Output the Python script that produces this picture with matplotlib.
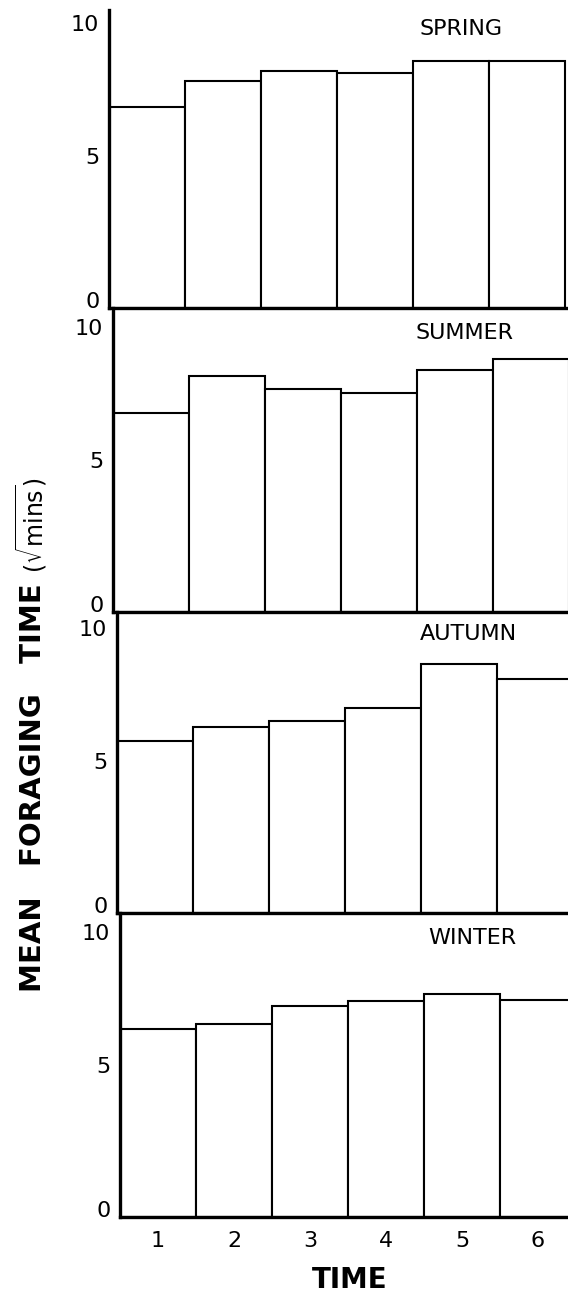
import matplotlib.pyplot as plt
from matplotlib.transforms import ScaledTranslation

seasons = ["SPRING", "SUMMER", "AUTUMN", "WINTER"]
time_periods = [1, 2, 3, 4, 5, 6]
spring = [6.88, 7.77, 8.12, 8.05, 8.46, 8.46]
summer = [6.82, 8.08, 7.64, 7.50, 8.29, 8.66]
autumn = [5.89, 6.37, 6.58, 7.02, 8.53, 8.01]
winter = [6.44, 6.61, 7.23, 7.40, 7.64, 7.43]
y_ticks = [0, 5, 10]

W, H = 568, 1298
fig = plt.figure(figsize=(W / 100, H / 100), dpi=100)

# panel placement in pixels (left edge of y axis, baseline); drawing drifts right a bit
panel_left = [109, 113, 117, 120]
panel_base = [308, 612, 913, 1217]
unit_y = 29.2   # px per unit on the y axis
unit_x = 76     # px per bar

# small nudges for the y tick labels, in pixels (0 up, 5 up, 10 down)
label_shift = {0: 8, 5: 6, 10: -7}

prev_base = 10  # top of the first y axis line
for i, (name, vals) in enumerate(zip(seasons, [spring, summer, autumn, winter])):
    left = panel_left[i]
    base = panel_base[i]
    h = base - prev_base          # y axis runs up to the panel above
    ytop = h / unit_y
    prev_base = base
    ax = fig.add_axes([left / W, (H - base) / H, (W - left) / W, h / H])
    ax.patch.set_visible(False)   # keep the panel above's baseline visible
    ax.bar(time_periods, vals, width=1, color="white", edgecolor="black",
           linewidth=1.5, zorder=2)
    ax.set_xlim(0.5, 0.5 + (W - left) / unit_x)
    ax.set_ylim(0, ytop)

    for s in ["top", "right"]:
        ax.spines[s].set_visible(False)
    for s in ["left", "bottom"]:
        ax.spines[s].set_linewidth(2.4)
        ax.spines[s].set_zorder(3)

    ax.set_yticks(y_ticks)
    ax.set_yticklabels([str(t) for t in y_ticks])
    ax.tick_params(axis="y", length=0, pad=7, labelsize=16)
    for t, lab in zip(y_ticks, ax.get_yticklabels()):
        off = ScaledTranslation(0, label_shift[t] / 100, fig.dpi_scale_trans)
        lab.set_transform(lab.get_transform() + off)

    if i == 3:
        ax.set_xticks(time_periods)
        ax.tick_params(axis="x", length=0, pad=10, labelsize=16)
    else:
        ax.set_xticks([])

    ax.text(5.13, 9.55, name, ha="center", va="center", fontsize=16)

fig.text(350 / W, 1 - 1280 / H, "TIME", ha="center", va="center",
         fontsize=20, fontweight="bold")
fig.text(33 / W, 1 - 788 / H, "MEAN   FORAGING   TIME", rotation=90,
         ha="center", va="center", fontsize=21, fontweight="bold")
fig.text(31 / W, 1 - 525 / H, r"$(\sqrt{\mathrm{mins}})$", rotation=90,
         ha="center", va="center", fontsize=17)

fig.savefig("out.png", dpi=100)
